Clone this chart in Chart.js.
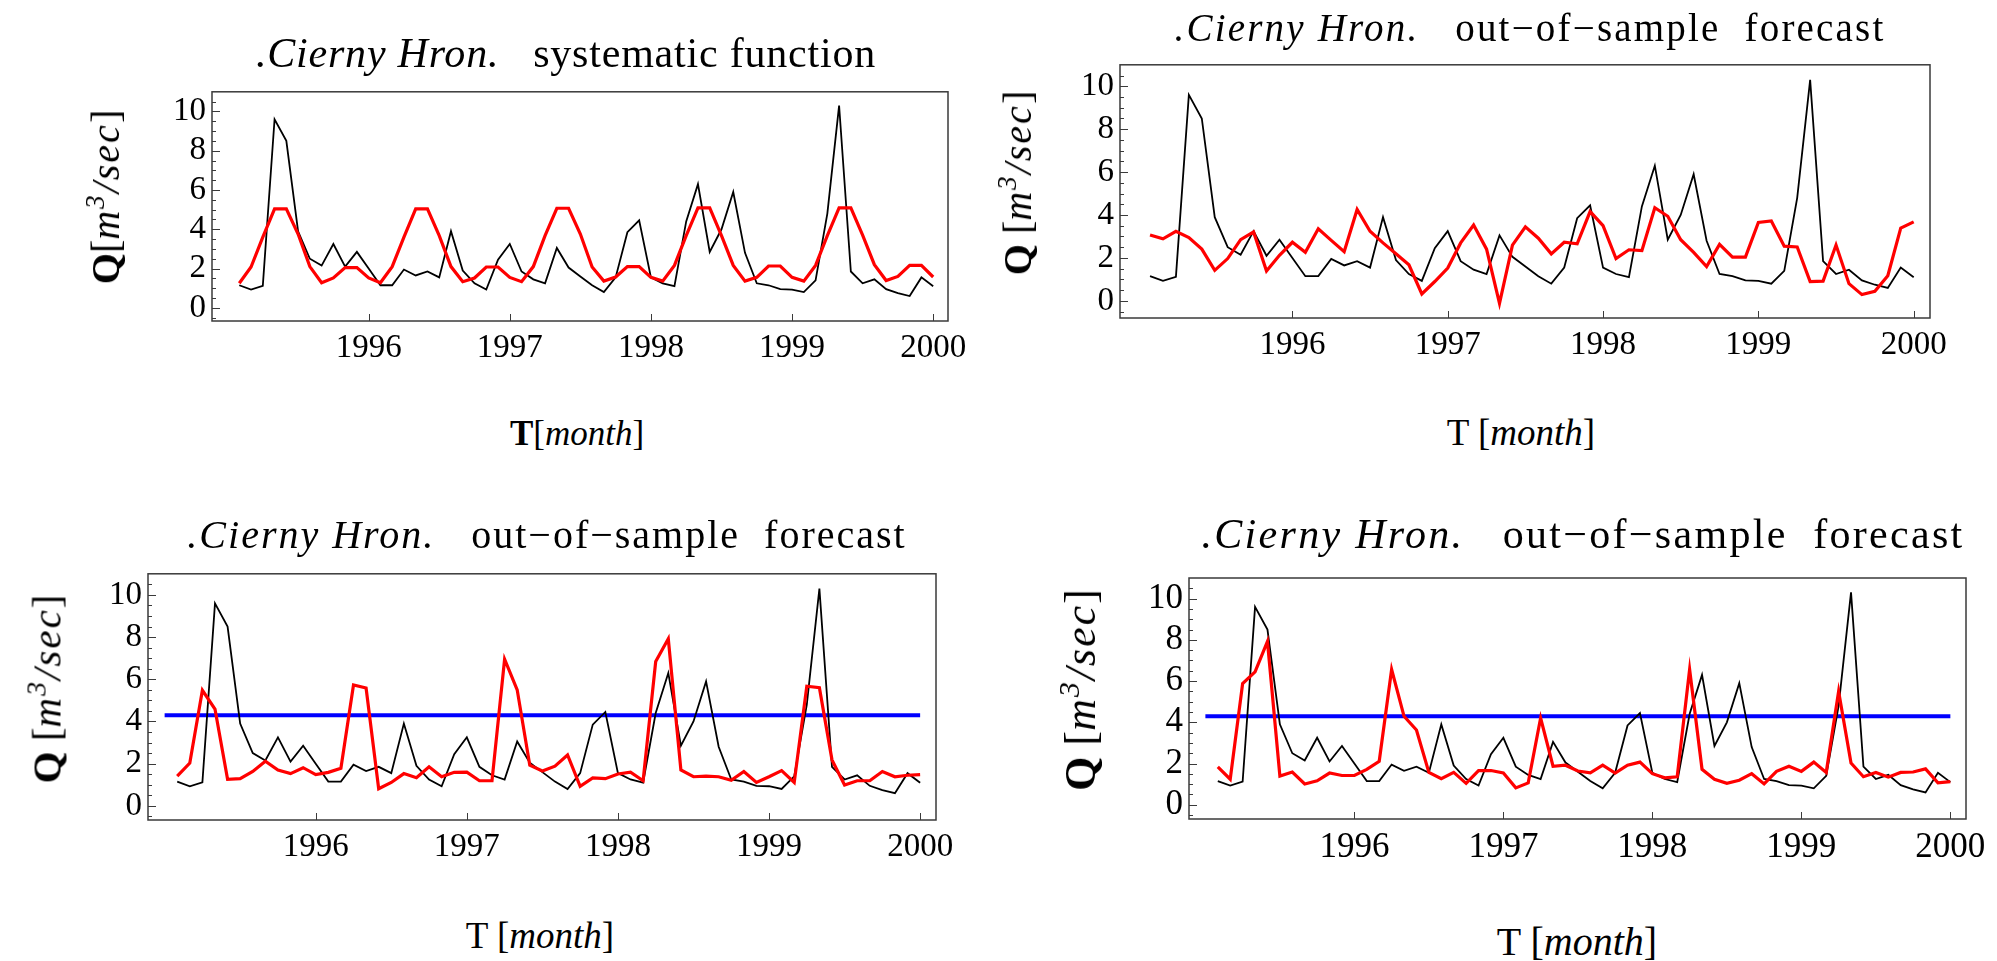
<!DOCTYPE html>
<html>
<head>
<meta charset="utf-8">
<title>Cierny Hron – systematic function and out-of-sample forecasts</title>
<script src="https://cdn.jsdelivr.net/npm/chart.js@4.4.0/dist/chart.umd.min.js"></script>
<style>
  html, body { margin: 0; padding: 0; background: #fff; width: 1997px; height: 961px; overflow: hidden; }
  canvas { position: absolute; }
  .txt {
    position: absolute;
    font-family: 'Liberation Serif', 'Times New Roman', serif;
    color: #000;
    white-space: pre;
    line-height: 1;
    transform: translate(-50%, -50%);
  }
  .rot { transform: translate(-50%, -50%) rotate(-90deg); }
  .txt sup { font-size: 0.68em; vertical-align: 0.55em; line-height: 0; }
  .sp { letter-spacing: 2px; }
</style>
</head>
<body>
<canvas id="c1"></canvas>
<canvas id="c2"></canvas>
<canvas id="c3"></canvas>
<canvas id="c4"></canvas>
<div id="labels"></div>

<script>
  // ── Data ────────────────────────────────────────────────────────
  const MONTHS = [
    '1995-02', '1995-03', '1995-04', '1995-05', '1995-06', '1995-07', '1995-08', '1995-09', '1995-10', '1995-11', '1995-12',
    '1996-01', '1996-02', '1996-03', '1996-04', '1996-05', '1996-06', '1996-07', '1996-08', '1996-09', '1996-10', '1996-11', '1996-12',
    '1997-01', '1997-02', '1997-03', '1997-04', '1997-05', '1997-06', '1997-07', '1997-08', '1997-09', '1997-10', '1997-11', '1997-12',
    '1998-01', '1998-02', '1998-03', '1998-04', '1998-05', '1998-06', '1998-07', '1998-08', '1998-09', '1998-10', '1998-11', '1998-12',
    '1999-01', '1999-02', '1999-03', '1999-04', '1999-05', '1999-06', '1999-07', '1999-08', '1999-09', '1999-10', '1999-11', '1999-12',
    '2000-01'
  ];

  // observed discharge (black, same in all four panels)
  const observed = [
    1.15, 0.93, 1.12, 9.6, 8.5, 3.9, 2.5, 2.15, 3.25, 2.1, 2.85,
    2.0, 1.15, 1.15, 1.95, 1.65, 1.85, 1.55, 3.9, 1.9, 1.25, 0.93, 2.45,
    3.25, 1.85, 1.45, 1.25, 3.05, 2.05, 1.6, 1.15, 0.8, 1.55, 3.85, 4.45,
    1.55, 1.25, 1.1, 4.4, 6.3, 2.85, 4.0, 5.9, 2.8, 1.25, 1.15, 0.95,
    0.93, 0.8, 1.4, 4.8, 10.3, 1.85, 1.25, 1.45, 0.95, 0.75, 0.6, 1.55,
    1.1
  ];

  // top-left: systematic function
  const systematic = [
    1.25, 2.08, 3.6, 5.04, 5.04, 3.76, 2.1, 1.28, 1.52, 2.05, 2.05,
    1.52, 1.28, 2.1, 3.6, 5.04, 5.04, 3.68, 2.1, 1.33, 1.52, 2.08, 2.08,
    1.55, 1.33, 2.1, 3.68, 5.07, 5.07, 3.76, 2.08, 1.36, 1.57, 2.1, 2.1,
    1.55, 1.36, 2.16, 3.68, 5.09, 5.09, 3.68, 2.16, 1.36, 1.55, 2.13, 2.13,
    1.55, 1.36, 2.16, 3.68, 5.09, 5.09, 3.7, 2.2, 1.39, 1.6, 2.16, 2.16,
    1.57
  ];

  // top-right: out-of-sample forecast
  const forecastA = [
    3.07, 2.89, 3.24, 2.95, 2.41, 1.42, 1.97, 2.85, 3.21, 1.39, 2.12,
    2.73, 2.26, 3.36, 2.82, 2.29, 4.26, 3.24, 2.7, 2.19, 1.68, 0.32, 0.9,
    1.53, 2.7, 3.53, 2.41, -0.12, 2.6, 3.45, 2.92, 2.19, 2.73, 2.66, 4.16,
    3.5, 1.97, 2.38, 2.34, 4.34, 3.94, 2.85, 2.26, 1.6, 2.63, 2.04, 2.04,
    3.65, 3.72, 2.55, 2.51, 0.9, 0.92, 2.6, 0.8, 0.29, 0.44, 1.17, 3.39,
    3.68
  ];

  // bottom-left: out-of-sample forecast
  const forecastB = [
    1.41, 2.03, 5.48, 4.59, 1.26, 1.29, 1.63, 2.12, 1.7, 1.53, 1.81,
    1.48, 1.59, 1.78, 5.73, 5.59, 0.81, 1.11, 1.53, 1.33, 1.85, 1.38, 1.59,
    1.6, 1.19, 1.19, 6.95, 5.5, 1.93, 1.65, 1.88, 2.41, 0.93, 1.33, 1.29,
    1.51, 1.6, 1.19, 6.84, 7.92, 1.7, 1.38, 1.41, 1.38, 1.21, 1.63, 1.11,
    1.38, 1.67, 1.11, 5.67, 5.6, 2.18, 0.99, 1.19, 1.19, 1.63, 1.38, 1.45,
    1.48
  ];

  // bottom-right: out-of-sample forecast
  const forecastC = [
    1.84, 1.24, 5.88, 6.45, 7.92, 1.39, 1.59, 1.01, 1.16, 1.54, 1.42,
    1.42, 1.72, 2.11, 6.56, 4.29, 3.63, 1.57, 1.27, 1.57, 1.04, 1.66, 1.66,
    1.54, 0.82, 1.06, 4.21, 1.87, 1.92, 1.64, 1.55, 1.92, 1.54, 1.92, 2.07,
    1.51, 1.31, 1.36, 6.56, 1.72, 1.24, 1.04, 1.19, 1.51, 1.01, 1.62, 1.87,
    1.62, 2.07, 1.57, 5.5, 2.02, 1.36, 1.57, 1.34, 1.57, 1.59, 1.74, 1.06,
    1.12
  ];

  // blue threshold level in the two lower panels
  const THRESHOLD = 4.3;
  const THRESHOLD_SPAN = ['1995-01', '2000-01'];

  const YEAR_TICKS = [1996, 1997, 1998, 1999, 2000];
  const Q_TICKS = [0, 2, 4, 6, 8, 10];

  // ── Shared styling ──────────────────────────────────────────────
  const FONT = "'Liberation Serif', 'Times New Roman', serif";
  const X_MIN = 1994.89, X_MAX = 2000.105;
  const PAD_L = 90, PAD_T = 10, PAD_R = 30, PAD_B = 60;
  const FRAME_COLOR = '#3a3a3a';

  const toYear = m => {
    const [y, mo] = m.split('-').map(Number);
    return y + (mo - 1) / 12;
  };
  const toPoints = vals => MONTHS.map((m, i) => ({ x: toYear(m), y: vals[i] }));

  // Mathematica-like frame with inward ticks (left + bottom only)
  const frameTicks = {
    id: 'frameTicks',
    afterDatasetsDraw(chart) {
      const { ctx, chartArea: a, scales: { x, y } } = chart;
      ctx.save();
      ctx.strokeStyle = FRAME_COLOR;
      ctx.lineWidth = 1.5;
      ctx.strokeRect(a.left, a.top, a.right - a.left, a.bottom - a.top);
      ctx.lineWidth = 1;
      ctx.beginPath();
      YEAR_TICKS.forEach(v => {
        const px = Math.round(x.getPixelForValue(v)) + 0.5;
        ctx.moveTo(px, a.bottom);
        ctx.lineTo(px, a.bottom - 7);
      });
      for (let v = -0.5; v <= 10.5; v += 0.5) {
        const py = Math.round(y.getPixelForValue(v)) + 0.5;
        if (py < a.top || py > a.bottom) continue;
        const len = Q_TICKS.includes(v) ? 8 : 4;
        ctx.moveTo(a.left, py);
        ctx.lineTo(a.left + len, py);
      }
      ctx.stroke();
      ctx.restore();
    }
  };

  function makePanel(id, frame, yMin, tickSize, modelVals, withThreshold) {
    const cv = document.getElementById(id);
    cv.width = frame.r - frame.l + PAD_L + PAD_R;
    cv.height = frame.b - frame.t + PAD_T + PAD_B;
    cv.style.left = (frame.l - PAD_L) + 'px';
    cv.style.top = (frame.t - PAD_T) + 'px';

    const datasets = [
      { data: toPoints(modelVals), borderColor: '#ff0000', borderWidth: 3.2 },
      { data: toPoints(observed), borderColor: '#000000', borderWidth: 1.8 }
    ];
    if (withThreshold) {
      datasets.push({
        data: THRESHOLD_SPAN.map(m => ({ x: toYear(m), y: THRESHOLD })),
        borderColor: '#0000ff',
        borderWidth: 4
      });
    }

    const tickFont = { family: FONT, size: tickSize };
    return new Chart(cv, {
      type: 'line',
      data: { datasets },
      options: {
        responsive: false,
        animation: false,
        layout: { padding: { left: 0, top: PAD_T, right: PAD_R, bottom: 0 } },
        elements: { point: { radius: 0 }, line: { tension: 0, borderCapStyle: 'butt' } },
        plugins: { legend: { display: false }, tooltip: { enabled: false } },
        scales: {
          x: {
            type: 'linear',
            min: X_MIN,
            max: X_MAX,
            afterBuildTicks: s => { s.ticks = YEAR_TICKS.map(v => ({ value: v })); },
            afterFit: s => { s.height = PAD_B; },
            grid: { display: false, drawTicks: false },
            border: { display: false },
            ticks: { color: '#000', font: tickFont, padding: 8, maxRotation: 0, callback: v => String(v) }
          },
          y: {
            type: 'linear',
            min: yMin,
            max: 11,
            afterBuildTicks: s => { s.ticks = Q_TICKS.map(v => ({ value: v })); },
            afterFit: s => { s.width = PAD_L; },
            grid: { display: false, drawTicks: false },
            border: { display: false },
            ticks: { color: '#000', font: tickFont, padding: 6, callback: v => String(v) }
          }
        }
      },
      plugins: [frameTicks]
    });
  }

  makePanel('c1', { l: 212, t: 76, r: 948, b: 321 }, -0.67, 33, systematic, false);
  makePanel('c2', { l: 1120, t: 49, r: 1930, b: 318 }, -0.8, 33, forecastA, false);
  makePanel('c3', { l: 148, t: 558, r: 936, b: 820 }, -0.67, 33, forecastB, true);
  makePanel('c4', { l: 1189, t: 561, r: 1966, b: 819 }, -0.69, 35, forecastC, true);

  // ── Titles and axis labels ──────────────────────────────────────
  const TITLE_SYS = '<i>.Cierny Hron.</i>   systematic function';
  const TITLE_OOS = '<i>.Cierny Hron.</i>   out\u2212of\u2212sample  forecast';
  const Y_LBL_1 = '<b>Q</b>[<i class="sp">m<sup>3</sup>/sec</i>]';
  const Y_LBL = '<b>Q</b> [<i class="sp">m<sup>3</sup>/sec</i>]';
  const X_LBL_1 = '<b>T</b>[<i>month</i>]';
  const X_LBL = 'T [<i>month</i>]';

  const LABELS = [
    { x: 566, y: 53, size: 42, ls: 0.8, html: TITLE_SYS },
    { x: 1530, y: 27, size: 39, ls: 2.2, html: TITLE_OOS },
    { x: 547, y: 535, size: 40, ls: 2.0, html: TITLE_OOS },
    { x: 1583, y: 534, size: 42, ls: 2.3, html: TITLE_OOS },
    { x: 106, y: 197, size: 40, html: Y_LBL_1, rot: true },
    { x: 1018, y: 183, size: 40, html: Y_LBL, rot: true },
    { x: 47, y: 689, size: 41, html: Y_LBL, rot: true },
    { x: 1081, y: 690, size: 44, html: Y_LBL, rot: true },
    { x: 577, y: 433, size: 35, html: X_LBL_1 },
    { x: 1521, y: 432, size: 37, html: X_LBL },
    { x: 540, y: 935, size: 37, html: X_LBL },
    { x: 1577, y: 942, size: 40, html: X_LBL }
  ];

  const host = document.getElementById('labels');
  LABELS.forEach(l => {
    const d = document.createElement('div');
    d.className = 'txt' + (l.rot ? ' rot' : '');
    d.style.left = l.x + 'px';
    d.style.top = l.y + 'px';
    d.style.fontSize = l.size + 'px';
    if (l.ls) d.style.letterSpacing = l.ls + 'px';
    d.innerHTML = l.html;
    host.appendChild(d);
  });
</script>
</body>
</html>
